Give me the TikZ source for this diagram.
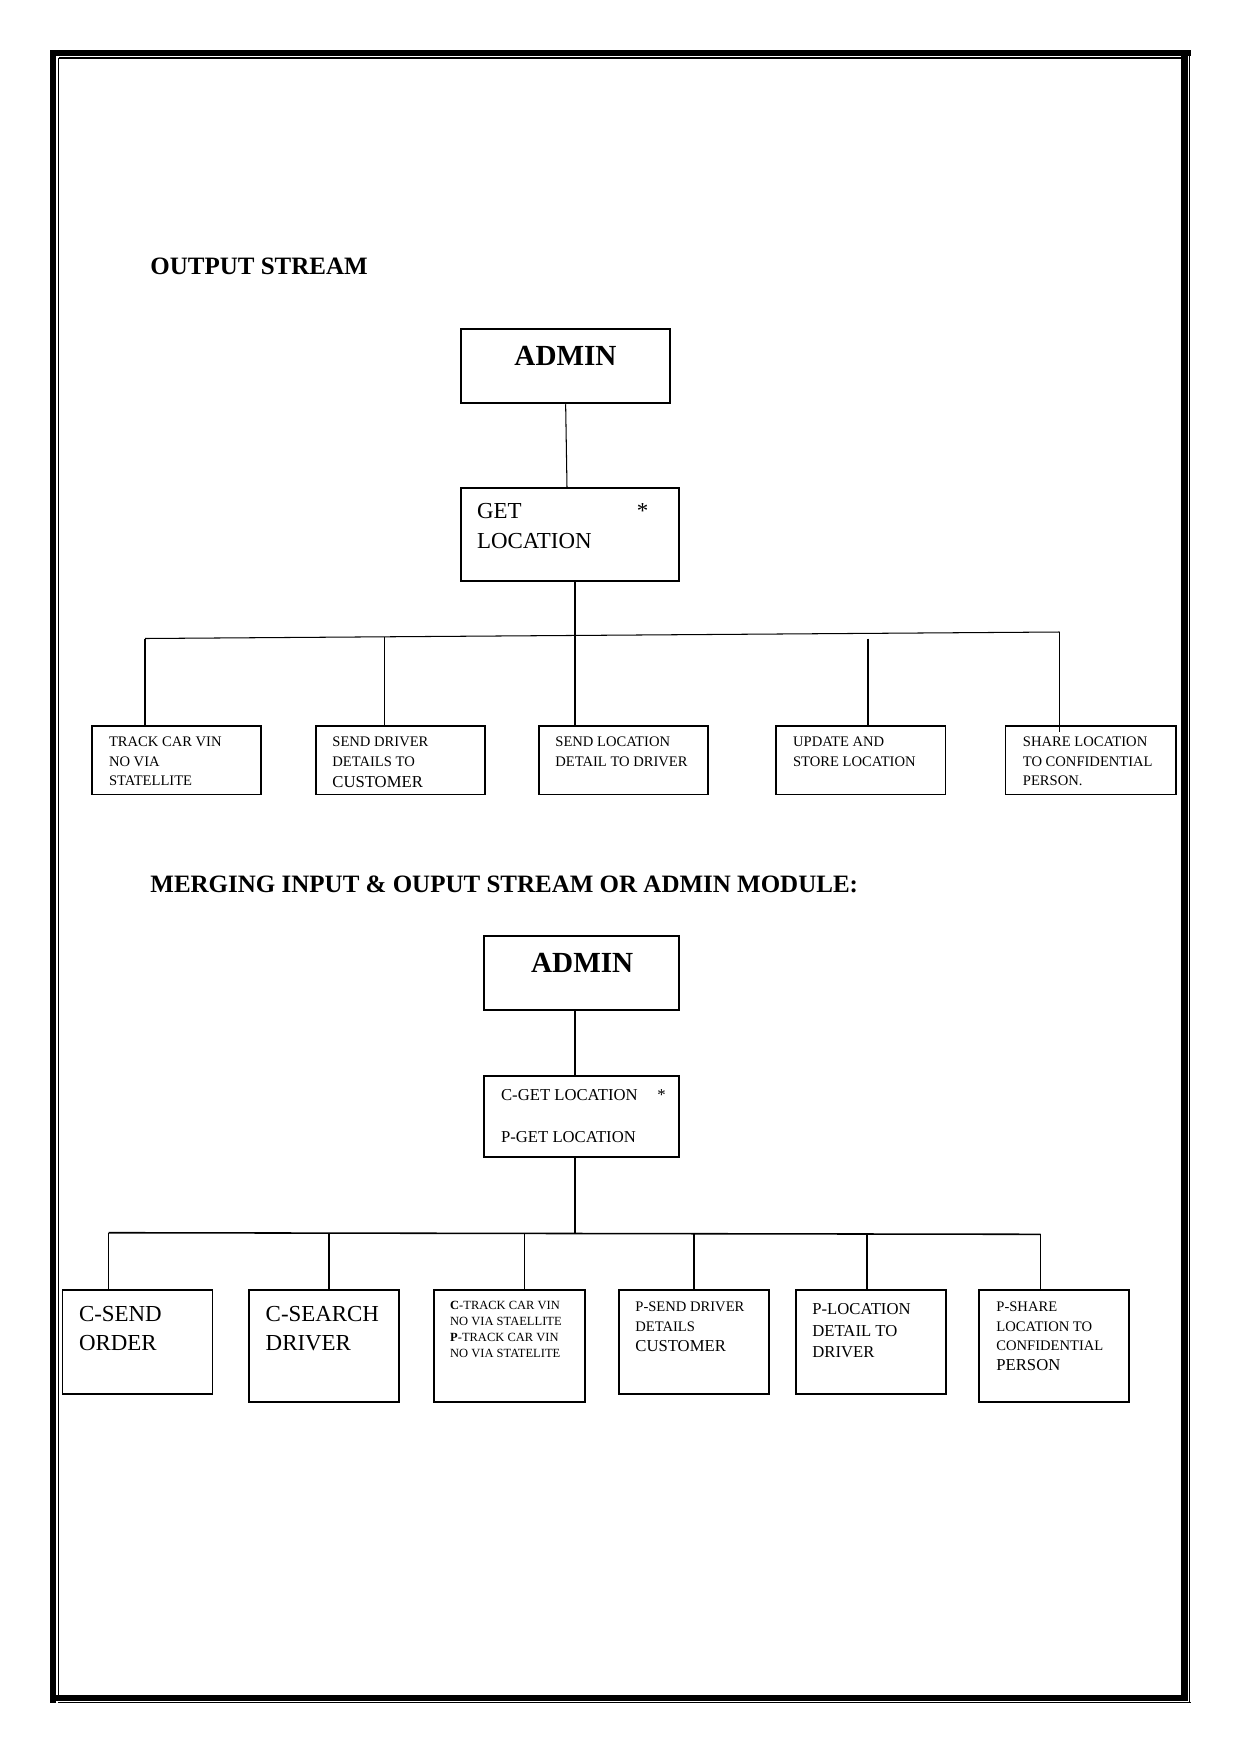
\documentclass[tikz,border=0pt]{standalone}
\usepackage{fontspec}
\setmainfont{Liberation Serif}
\usetikzlibrary{fit}
\begin{document}
\begin{tikzpicture}[x=0.48pt,y=-0.48pt,
  box/.style={draw,line width=0.9pt,inner sep=0pt},
  lbl/.style={anchor=base west,inner sep=0pt},
  ctr/.style={anchor=base,inner sep=0pt},
  thinconn/.style={line width=0.5pt},
  conn/.style={line width=0.75pt},
  stemline/.style={line width=0.9pt},
  fa/.style={font=\fontsize{6}{6.5}\selectfont},
  fb/.style={font=\fontsize{7}{8}\selectfont},
  fc/.style={font=\fontsize{8}{9}\selectfont},
  fd/.style={font=\fontsize{11}{12}\selectfont},
  ftitle/.style={font=\fontsize{12}{14}\selectfont\bfseries},
  fadmin/.style={font=\fontsize{14}{16}\selectfont\bfseries}]
\useasboundingbox (0,0) rectangle (1241,1754);
% page border (thick-thin)
\fill (50,50) rectangle (1191,56);
\fill (50,50) rectangle (56,1703);
\fill (1181,56) rectangle (1188,1701);
\fill (56,1695) rectangle (1188,1701);
\draw[line width=0.7pt] (58.5,58) -- (1181,58);
\draw[line width=0.7pt] (58.5,58) -- (58.5,1695);
\draw[line width=0.7pt] (1189.7,56) -- (1189.7,1703);
\draw[line width=0.7pt] (58,1702.5) -- (1190.5,1702.5);

% ---------------- OUTPUT STREAM ----------------
\node[lbl,ftitle] (title1) at (150,274.5) {OUTPUT STREAM};

\node[box,fit={(461,328.7) (670.3,403.3)}] (admin1) {};
\node[ctr,fadmin] (admin1t) at (565.5,365.3) {ADMIN};

\node[box,fit={(461,488.3) (679.3,581)}] (get1) {};
\node[lbl,fd] (get1a) at (476.7,518.3) {GET};
\node[lbl,fd] (get1b) at (476.7,548.3) {LOCATION};
\node[lbl,fd] (get1s) at (636.5,518.3) {*};

\node[box,fit={(91.8,726) (261,794.5)}] (c11) {};
\node[box,fit={(315.7,726) (484.6,794.5)}] (c12) {};
\node[box,fit={(538.6,726) (708.4,794.5)}] (c13) {};
\node[box,fit={(776.4,726) (945.5,794.5)}] (c14) {};
\node[box,fit={(1005.5,726) (1175.6,794.5)}] (c15) {};

\node[lbl,fb] (c11a) at (108.6,746.7) {TRACK CAR VIN};
\node[lbl,fb] (c11b) at (108.6,766.7) {NO VIA};
\node[lbl,fb] (c11c) at (108.6,785.7) {STATELLITE};

\node[lbl,fb] (c12a) at (332,746.7) {SEND DRIVER};
\node[lbl,fb] (c12b) at (332,766.7) {DETAILS TO};
\node[lbl,fc] (c12c) at (332,787.7) {CUSTOMER};

\node[lbl,fb] (c13a) at (555,746.7) {SEND LOCATION};
\node[lbl,fb] (c13b) at (555,766.7) {DETAIL TO DRIVER};

\node[lbl,fb] (c14a) at (792.7,746.7) {UPDATE AND};
\node[lbl,fb] (c14b) at (792.7,766.7) {STORE LOCATION};

\node[lbl,fb] (c15a) at (1022.5,746.7) {SHARE LOCATION};
\node[lbl,fb] (c15b) at (1022.5,766.7) {TO CONFIDENTIAL};
\node[lbl,fb] (c15c) at (1022.5,785.7) {PERSON.};

% connectors
\coordinate (e1) at (567,0);
\coordinate (b1L) at (145,638.5);
\coordinate (b1R) at (1059.5,632);
\coordinate (j1) at (574.7,635.5);
\coordinate (k12) at (384.5,636.8);
\coordinate (k14) at (868,638.5);
\coordinate (e15) at (1059.5,731.7);
\draw[thinconn] (admin1.south) -- (e1 |- get1.north);
\draw[thinconn] (b1L) -- (b1R);
\draw[stemline] (j1 |- get1.south) -- (j1 |- c13.north);
\draw[thinconn] (b1L) -- (b1L |- c11.north);
\draw[thinconn] (k12) -- (k12 |- c12.north);
\draw[thinconn] (k14) -- (k14 |- c14.north);
\draw[thinconn] (b1R) -- (e15);

% ---------------- MERGING ----------------
\node[lbl,ftitle] (title2) at (150,892) {MERGING INPUT \& OUPUT STREAM OR ADMIN MODULE:};

\node[box,fit={(484.3,936) (679.3,1010)}] (admin2) {};
\node[ctr,fadmin] (admin2t) at (582.2,972.3) {ADMIN};

\node[box,fit={(484.3,1075.7) (679.3,1157)}] (get2) {};
\node[lbl,fc] (get2a) at (500.7,1100) {C-GET LOCATION};
\node[lbl,fc] (get2b) at (500.7,1142) {P-GET LOCATION};
\node[lbl,fc] (get2s) at (657,1100) {*};

\node[box,fit={(62.5,1290) (212.5,1394)}] (d1) {};
\node[box,fit={(249,1290) (399,1401.7)}] (d2) {};
\node[box,fit={(434,1290) (584.6,1401.7)}] (d3) {};
\node[box,fit={(618.6,1290) (769,1394)}] (d4) {};
\node[box,fit={(795.7,1290) (945.7,1394)}] (d5) {};
\node[box,fit={(979,1290) (1129,1401.7)}] (d6) {};

\node[lbl,fd] (d1a) at (78.6,1321) {C-SEND};
\node[lbl,fd] (d1b) at (78.6,1350.7) {ORDER};

\node[lbl,fd] (d2a) at (265.3,1321) {C-SEARCH};
\node[lbl,fd] (d2b) at (265.3,1350.7) {DRIVER};

\node[lbl,fa] (d3a) at (449.8,1309.3) {\textbf{C}-TRACK CAR VIN};
\node[lbl,fa] (d3b) at (449.8,1325) {NO VIA STAELLITE};
\node[lbl,fa] (d3c) at (449.8,1341) {\textbf{P}-TRACK CAR VIN};
\node[lbl,fa] (d3d) at (449.8,1357) {NO VIA STATELITE};

\node[lbl,fb] (d4a) at (635,1311.7) {P-SEND DRIVER};
\node[lbl,fb] (d4b) at (635,1331) {DETAILS};
\node[lbl,fc] (d4c) at (635,1351.7) {CUSTOMER};

\node[lbl,fc] (d5a) at (812,1314.3) {P-LOCATION};
\node[lbl,fc] (d5b) at (812,1336) {DETAIL TO};
\node[lbl,fc] (d5c) at (812,1357.7) {DRIVER};

\node[lbl,fb] (d6a) at (996,1311.7) {P-SHARE};
\node[lbl,fb] (d6b) at (996,1331) {LOCATION TO};
\node[lbl,fb] (d6c) at (996,1350) {CONFIDENTIAL};
\node[lbl,fc] (d6d) at (996,1370.7) {PERSON};

\coordinate (b2L) at (108.5,1232.7);
\coordinate (b2R) at (1040.5,1234.3);
\coordinate (j2) at (575,1233.5);
\coordinate (k22) at (329,1233.1);
\coordinate (k23) at (524.5,1233.4);
\coordinate (k24) at (694,1233.7);
\coordinate (k25) at (867,1234);
\draw[stemline] (j2 |- admin2.south) -- (j2 |- get2.north);
\draw[stemline] (j2 |- get2.south) -- (j2);
\draw[conn] (b2L) -- (b2R);
\draw[conn] (b2L) -- (b2L |- d1.north);
\draw[conn] (k22) -- (k22 |- d2.north);
\draw[thinconn] (k23) -- (k23 |- d3.north);
\draw[thinconn] (k24) -- (k24 |- d4.north);
\draw[thinconn] (k25) -- (k25 |- d5.north);
\draw[thinconn] (b2R) -- (b2R |- d6.north);
\end{tikzpicture}
\end{document}
